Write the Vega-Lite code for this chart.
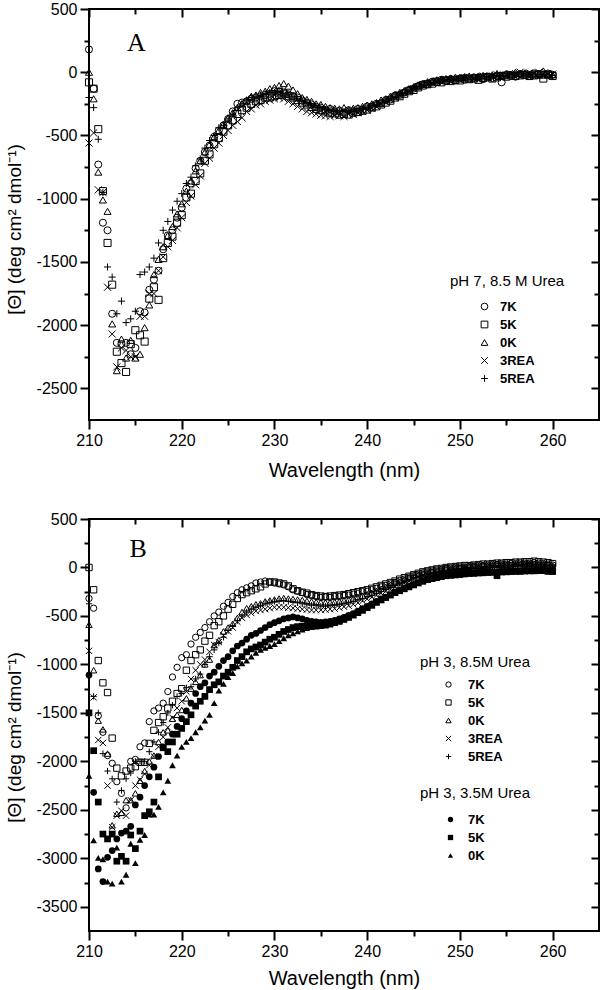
{
"$schema":"https://vega.github.io/schema/vega-lite/v6.json",
"padding":{"left":4,"top":0,"right":1,"bottom":0},
"bounds":"flush",
"spacing":99,
"config":{
"view":{"stroke":"black","strokeWidth":2},
"font":"Liberation Sans",
"axis":{"grid":false,"domain":false,"labelFlush":false,"labelOverlap":false,"labelExpr":"'' + datum.value","tickColor":"black","tickWidth":2,"labelColor":"black","titleColor":"black","labelFont":"Liberation Sans","titleFont":"Liberation Sans","labelFontSize":16,"titleFontSize":19,"titleFontWeight":"normal"},
"legend":{"titleFont":"Liberation Sans","labelFont":"Liberation Sans","titleColor":"black","labelColor":"black","titleFontWeight":"normal","labelFontWeight":"bold","titleFontSize":15,"labelFontSize":13,"padding":0,"rowPadding":4,"titlePadding":9,"orient":"none"}
},
"datasets":{
"a":[
{"s":"7K","x":210,"y":180},{"s":"7K","x":210.5,"y":-130},{"s":"7K","x":211,"y":-730},{"s":"7K","x":211.5,"y":-1190},{"s":"7K","x":212,"y":-1250},{"s":"7K","x":212.5,"y":-1910},{"s":"7K","x":213,"y":-2140},{"s":"7K","x":213.5,"y":-2150},{"s":"7K","x":214,"y":-2140},{"s":"7K","x":214.5,"y":-2230},{"s":"7K","x":215,"y":-2180},{"s":"7K","x":215.5,"y":-1890},{"s":"7K","x":216,"y":-1900},{"s":"7K","x":216.5,"y":-1720},{"s":"7K","x":217,"y":-1640},{"s":"7K","x":217.5,"y":-1570},{"s":"7K","x":218,"y":-1400},{"s":"7K","x":218.5,"y":-1290},{"s":"7K","x":219,"y":-1250},{"s":"7K","x":219.5,"y":-1150},{"s":"7K","x":220,"y":-1070},{"s":"7K","x":220.5,"y":-920},{"s":"7K","x":221,"y":-880},{"s":"7K","x":221.5,"y":-760},{"s":"7K","x":222,"y":-700},{"s":"7K","x":222.5,"y":-630},{"s":"7K","x":223,"y":-580},{"s":"7K","x":223.5,"y":-510},{"s":"7K","x":224,"y":-460},{"s":"7K","x":224.5,"y":-420},{"s":"7K","x":225,"y":-370},{"s":"7K","x":225.5,"y":-310},{"s":"7K","x":226,"y":-250},{"s":"7K","x":226.5,"y":-240},{"s":"7K","x":227,"y":-230},{"s":"7K","x":227.5,"y":-210},{"s":"7K","x":228,"y":-200},{"s":"7K","x":228.5,"y":-190},{"s":"7K","x":229,"y":-180},{"s":"7K","x":229.5,"y":-170},{"s":"7K","x":230,"y":-150},{"s":"7K","x":230.5,"y":-150},{"s":"7K","x":231,"y":-160},{"s":"7K","x":231.5,"y":-175},{"s":"7K","x":232,"y":-190},{"s":"7K","x":232.5,"y":-200},{"s":"7K","x":233,"y":-225},{"s":"7K","x":233.5,"y":-240},{"s":"7K","x":234,"y":-255},{"s":"7K","x":234.5,"y":-275},{"s":"7K","x":235,"y":-280},{"s":"7K","x":235.5,"y":-300},{"s":"7K","x":236,"y":-290},{"s":"7K","x":236.5,"y":-310},{"s":"7K","x":237,"y":-305},{"s":"7K","x":237.5,"y":-320},{"s":"7K","x":238,"y":-300},{"s":"7K","x":238.5,"y":-310},{"s":"7K","x":239,"y":-290},{"s":"7K","x":239.5,"y":-295},{"s":"7K","x":240,"y":-270},{"s":"7K","x":240.5,"y":-275},{"s":"7K","x":241,"y":-250},{"s":"7K","x":241.5,"y":-245},{"s":"7K","x":242,"y":-220},{"s":"7K","x":242.5,"y":-215},{"s":"7K","x":243,"y":-185},{"s":"7K","x":243.5,"y":-180},{"s":"7K","x":244,"y":-160},{"s":"7K","x":244.5,"y":-140},{"s":"7K","x":245,"y":-130},{"s":"7K","x":245.5,"y":-110},{"s":"7K","x":246,"y":-95},{"s":"7K","x":246.5,"y":-95},{"s":"7K","x":247,"y":-75},{"s":"7K","x":247.5,"y":-80},{"s":"7K","x":248,"y":-60},{"s":"7K","x":248.5,"y":-70},{"s":"7K","x":249,"y":-55},{"s":"7K","x":249.5,"y":-65},{"s":"7K","x":250,"y":-50},{"s":"7K","x":250.5,"y":-60},{"s":"7K","x":251,"y":-50},{"s":"7K","x":251.5,"y":-45},{"s":"7K","x":252,"y":-40},{"s":"7K","x":252.5,"y":-55},{"s":"7K","x":253,"y":-35},{"s":"7K","x":253.5,"y":-45},{"s":"7K","x":254,"y":-30},{"s":"7K","x":254.5,"y":-80},{"s":"7K","x":255,"y":-20},{"s":"7K","x":255.5,"y":-30},{"s":"7K","x":256,"y":-35},{"s":"7K","x":256.5,"y":-15},{"s":"7K","x":257,"y":-20},{"s":"7K","x":257.5,"y":-30},{"s":"7K","x":258,"y":-10},{"s":"7K","x":258.5,"y":-15},{"s":"7K","x":259,"y":-20},{"s":"7K","x":259.5,"y":-10},{"s":"7K","x":260,"y":-20},
{"s":"5K","x":210,"y":-80},{"s":"5K","x":210.5,"y":-130},{"s":"5K","x":211,"y":-450},{"s":"5K","x":211.5,"y":-940},{"s":"5K","x":212,"y":-1350},{"s":"5K","x":212.5,"y":-1680},{"s":"5K","x":213,"y":-2210},{"s":"5K","x":213.5,"y":-2300},{"s":"5K","x":214,"y":-2370},{"s":"5K","x":214.5,"y":-2150},{"s":"5K","x":215,"y":-2040},{"s":"5K","x":215.5,"y":-2080},{"s":"5K","x":216,"y":-2130},{"s":"5K","x":216.5,"y":-1790},{"s":"5K","x":217,"y":-1700},{"s":"5K","x":217.5,"y":-1800},{"s":"5K","x":218,"y":-1470},{"s":"5K","x":218.5,"y":-1350},{"s":"5K","x":219,"y":-1300},{"s":"5K","x":219.5,"y":-1190},{"s":"5K","x":220,"y":-1130},{"s":"5K","x":220.5,"y":-990},{"s":"5K","x":221,"y":-960},{"s":"5K","x":221.5,"y":-860},{"s":"5K","x":222,"y":-800},{"s":"5K","x":222.5,"y":-700},{"s":"5K","x":223,"y":-650},{"s":"5K","x":223.5,"y":-570},{"s":"5K","x":224,"y":-520},{"s":"5K","x":224.5,"y":-470},{"s":"5K","x":225,"y":-420},{"s":"5K","x":225.5,"y":-380},{"s":"5K","x":226,"y":-330},{"s":"5K","x":226.5,"y":-300},{"s":"5K","x":227,"y":-280},{"s":"5K","x":227.5,"y":-250},{"s":"5K","x":228,"y":-230},{"s":"5K","x":228.5,"y":-220},{"s":"5K","x":229,"y":-200},{"s":"5K","x":229.5,"y":-200},{"s":"5K","x":230,"y":-190},{"s":"5K","x":230.5,"y":-180},{"s":"5K","x":231,"y":-170},{"s":"5K","x":231.5,"y":-190},{"s":"5K","x":232,"y":-200},{"s":"5K","x":232.5,"y":-220},{"s":"5K","x":233,"y":-240},{"s":"5K","x":233.5,"y":-255},{"s":"5K","x":234,"y":-275},{"s":"5K","x":234.5,"y":-290},{"s":"5K","x":235,"y":-300},{"s":"5K","x":235.5,"y":-310},{"s":"5K","x":236,"y":-320},{"s":"5K","x":236.5,"y":-325},{"s":"5K","x":237,"y":-335},{"s":"5K","x":237.5,"y":-330},{"s":"5K","x":238,"y":-335},{"s":"5K","x":238.5,"y":-320},{"s":"5K","x":239,"y":-315},{"s":"5K","x":239.5,"y":-305},{"s":"5K","x":240,"y":-295},{"s":"5K","x":240.5,"y":-280},{"s":"5K","x":241,"y":-270},{"s":"5K","x":241.5,"y":-255},{"s":"5K","x":242,"y":-240},{"s":"5K","x":242.5,"y":-225},{"s":"5K","x":243,"y":-200},{"s":"5K","x":243.5,"y":-190},{"s":"5K","x":244,"y":-170},{"s":"5K","x":244.5,"y":-150},{"s":"5K","x":245,"y":-140},{"s":"5K","x":245.5,"y":-120},{"s":"5K","x":246,"y":-105},{"s":"5K","x":246.5,"y":-95},{"s":"5K","x":247,"y":-90},{"s":"5K","x":247.5,"y":-75},{"s":"5K","x":248,"y":-80},{"s":"5K","x":248.5,"y":-65},{"s":"5K","x":249,"y":-70},{"s":"5K","x":249.5,"y":-60},{"s":"5K","x":250,"y":-65},{"s":"5K","x":250.5,"y":-50},{"s":"5K","x":251,"y":-55},{"s":"5K","x":251.5,"y":-50},{"s":"5K","x":252,"y":-60},{"s":"5K","x":252.5,"y":-45},{"s":"5K","x":253,"y":-40},{"s":"5K","x":253.5,"y":-50},{"s":"5K","x":254,"y":-40},{"s":"5K","x":254.5,"y":-30},{"s":"5K","x":255,"y":-35},{"s":"5K","x":255.5,"y":-25},{"s":"5K","x":256,"y":-30},{"s":"5K","x":256.5,"y":-25},{"s":"5K","x":257,"y":-20},{"s":"5K","x":257.5,"y":-30},{"s":"5K","x":258,"y":-25},{"s":"5K","x":258.5,"y":-20},{"s":"5K","x":259,"y":-50},{"s":"5K","x":259.5,"y":-20},{"s":"5K","x":260,"y":-30},
{"s":"0K","x":210,"y":0},{"s":"0K","x":210.5,"y":-210},{"s":"0K","x":211,"y":-790},{"s":"0K","x":211.5,"y":-1010},{"s":"0K","x":212,"y":-1100},{"s":"0K","x":212.5,"y":-1990},{"s":"0K","x":213,"y":-2360},{"s":"0K","x":213.5,"y":-2110},{"s":"0K","x":214,"y":-2260},{"s":"0K","x":214.5,"y":-2120},{"s":"0K","x":215,"y":-2260},{"s":"0K","x":215.5,"y":-2230},{"s":"0K","x":216,"y":-2020},{"s":"0K","x":216.5,"y":-1840},{"s":"0K","x":217,"y":-1600},{"s":"0K","x":217.5,"y":-1480},{"s":"0K","x":218,"y":-1380},{"s":"0K","x":218.5,"y":-1290},{"s":"0K","x":219,"y":-1220},{"s":"0K","x":219.5,"y":-1120},{"s":"0K","x":220,"y":-1040},{"s":"0K","x":220.5,"y":-940},{"s":"0K","x":221,"y":-860},{"s":"0K","x":221.5,"y":-780},{"s":"0K","x":222,"y":-700},{"s":"0K","x":222.5,"y":-630},{"s":"0K","x":223,"y":-570},{"s":"0K","x":223.5,"y":-510},{"s":"0K","x":224,"y":-460},{"s":"0K","x":224.5,"y":-410},{"s":"0K","x":225,"y":-360},{"s":"0K","x":225.5,"y":-320},{"s":"0K","x":226,"y":-280},{"s":"0K","x":226.5,"y":-250},{"s":"0K","x":227,"y":-220},{"s":"0K","x":227.5,"y":-190},{"s":"0K","x":228,"y":-180},{"s":"0K","x":228.5,"y":-160},{"s":"0K","x":229,"y":-150},{"s":"0K","x":229.5,"y":-130},{"s":"0K","x":230,"y":-120},{"s":"0K","x":230.5,"y":-105},{"s":"0K","x":231,"y":-90},{"s":"0K","x":231.5,"y":-110},{"s":"0K","x":232,"y":-140},{"s":"0K","x":232.5,"y":-170},{"s":"0K","x":233,"y":-200},{"s":"0K","x":233.5,"y":-215},{"s":"0K","x":234,"y":-230},{"s":"0K","x":234.5,"y":-250},{"s":"0K","x":235,"y":-255},{"s":"0K","x":235.5,"y":-270},{"s":"0K","x":236,"y":-280},{"s":"0K","x":236.5,"y":-285},{"s":"0K","x":237,"y":-290},{"s":"0K","x":237.5,"y":-280},{"s":"0K","x":238,"y":-295},{"s":"0K","x":238.5,"y":-285},{"s":"0K","x":239,"y":-280},{"s":"0K","x":239.5,"y":-270},{"s":"0K","x":240,"y":-260},{"s":"0K","x":240.5,"y":-250},{"s":"0K","x":241,"y":-240},{"s":"0K","x":241.5,"y":-220},{"s":"0K","x":242,"y":-210},{"s":"0K","x":242.5,"y":-190},{"s":"0K","x":243,"y":-175},{"s":"0K","x":243.5,"y":-160},{"s":"0K","x":244,"y":-145},{"s":"0K","x":244.5,"y":-130},{"s":"0K","x":245,"y":-115},{"s":"0K","x":245.5,"y":-100},{"s":"0K","x":246,"y":-90},{"s":"0K","x":246.5,"y":-75},{"s":"0K","x":247,"y":-70},{"s":"0K","x":247.5,"y":-60},{"s":"0K","x":248,"y":-55},{"s":"0K","x":248.5,"y":-50},{"s":"0K","x":249,"y":-45},{"s":"0K","x":249.5,"y":-40},{"s":"0K","x":250,"y":-40},{"s":"0K","x":250.5,"y":-35},{"s":"0K","x":251,"y":-30},{"s":"0K","x":251.5,"y":-35},{"s":"0K","x":252,"y":-30},{"s":"0K","x":252.5,"y":-25},{"s":"0K","x":253,"y":-30},{"s":"0K","x":253.5,"y":-20},{"s":"0K","x":254,"y":-10},{"s":"0K","x":254.5,"y":-25},{"s":"0K","x":255,"y":-10},{"s":"0K","x":255.5,"y":-15},{"s":"0K","x":256,"y":0},{"s":"0K","x":256.5,"y":-10},{"s":"0K","x":257,"y":-5},{"s":"0K","x":257.5,"y":-15},{"s":"0K","x":258,"y":-20},{"s":"0K","x":258.5,"y":-10},{"s":"0K","x":259,"y":10},{"s":"0K","x":259.5,"y":-15},{"s":"0K","x":260,"y":-20},
{"s":"3REA","x":210,"y":-560},{"s":"3REA","x":210.5,"y":-480},{"s":"3REA","x":211,"y":-930},{"s":"3REA","x":211.5,"y":-950},{"s":"3REA","x":212,"y":-1700},{"s":"3REA","x":212.5,"y":-2070},{"s":"3REA","x":213,"y":-2330},{"s":"3REA","x":213.5,"y":-2180},{"s":"3REA","x":214,"y":-2200},{"s":"3REA","x":214.5,"y":-2250},{"s":"3REA","x":215,"y":-2250},{"s":"3REA","x":215.5,"y":-1930},{"s":"3REA","x":216,"y":-1930},{"s":"3REA","x":216.5,"y":-1750},{"s":"3REA","x":217,"y":-1750},{"s":"3REA","x":217.5,"y":-1570},{"s":"3REA","x":218,"y":-1460},{"s":"3REA","x":218.5,"y":-1380},{"s":"3REA","x":219,"y":-1330},{"s":"3REA","x":219.5,"y":-1230},{"s":"3REA","x":220,"y":-1150},{"s":"3REA","x":220.5,"y":-1030},{"s":"3REA","x":221,"y":-980},{"s":"3REA","x":221.5,"y":-890},{"s":"3REA","x":222,"y":-820},{"s":"3REA","x":222.5,"y":-720},{"s":"3REA","x":223,"y":-680},{"s":"3REA","x":223.5,"y":-600},{"s":"3REA","x":224,"y":-560},{"s":"3REA","x":224.5,"y":-500},{"s":"3REA","x":225,"y":-460},{"s":"3REA","x":225.5,"y":-420},{"s":"3REA","x":226,"y":-390},{"s":"3REA","x":226.5,"y":-360},{"s":"3REA","x":227,"y":-310},{"s":"3REA","x":227.5,"y":-290},{"s":"3REA","x":228,"y":-260},{"s":"3REA","x":228.5,"y":-250},{"s":"3REA","x":229,"y":-230},{"s":"3REA","x":229.5,"y":-220},{"s":"3REA","x":230,"y":-210},{"s":"3REA","x":230.5,"y":-200},{"s":"3REA","x":231,"y":-210},{"s":"3REA","x":231.5,"y":-230},{"s":"3REA","x":232,"y":-250},{"s":"3REA","x":232.5,"y":-270},{"s":"3REA","x":233,"y":-290},{"s":"3REA","x":233.5,"y":-310},{"s":"3REA","x":234,"y":-320},{"s":"3REA","x":234.5,"y":-330},{"s":"3REA","x":235,"y":-340},{"s":"3REA","x":235.5,"y":-345},{"s":"3REA","x":236,"y":-350},{"s":"3REA","x":236.5,"y":-340},{"s":"3REA","x":237,"y":-345},{"s":"3REA","x":237.5,"y":-350},{"s":"3REA","x":238,"y":-330},{"s":"3REA","x":238.5,"y":-335},{"s":"3REA","x":239,"y":-320},{"s":"3REA","x":239.5,"y":-310},{"s":"3REA","x":240,"y":-300},{"s":"3REA","x":240.5,"y":-285},{"s":"3REA","x":241,"y":-270},{"s":"3REA","x":241.5,"y":-250},{"s":"3REA","x":242,"y":-235},{"s":"3REA","x":242.5,"y":-215},{"s":"3REA","x":243,"y":-200},{"s":"3REA","x":243.5,"y":-180},{"s":"3REA","x":244,"y":-165},{"s":"3REA","x":244.5,"y":-150},{"s":"3REA","x":245,"y":-130},{"s":"3REA","x":245.5,"y":-115},{"s":"3REA","x":246,"y":-100},{"s":"3REA","x":246.5,"y":-90},{"s":"3REA","x":247,"y":-85},{"s":"3REA","x":247.5,"y":-70},{"s":"3REA","x":248,"y":-65},{"s":"3REA","x":248.5,"y":-60},{"s":"3REA","x":249,"y":-60},{"s":"3REA","x":249.5,"y":-55},{"s":"3REA","x":250,"y":-50},{"s":"3REA","x":250.5,"y":-45},{"s":"3REA","x":251,"y":-40},{"s":"3REA","x":251.5,"y":-50},{"s":"3REA","x":252,"y":-40},{"s":"3REA","x":252.5,"y":-30},{"s":"3REA","x":253,"y":-35},{"s":"3REA","x":253.5,"y":-30},{"s":"3REA","x":254,"y":-20},{"s":"3REA","x":254.5,"y":-25},{"s":"3REA","x":255,"y":-20},{"s":"3REA","x":255.5,"y":-15},{"s":"3REA","x":256,"y":-10},{"s":"3REA","x":256.5,"y":0},{"s":"3REA","x":257,"y":-10},{"s":"3REA","x":257.5,"y":-5},{"s":"3REA","x":258,"y":-10},{"s":"3REA","x":258.5,"y":0},{"s":"3REA","x":259,"y":-20},{"s":"3REA","x":259.5,"y":-10},{"s":"3REA","x":260,"y":-15},
{"s":"5REA","x":210,"y":-200},{"s":"5REA","x":210.5,"y":-280},{"s":"5REA","x":211,"y":-530},{"s":"5REA","x":211.5,"y":-950},{"s":"5REA","x":212,"y":-1540},{"s":"5REA","x":212.5,"y":-1620},{"s":"5REA","x":213,"y":-1910},{"s":"5REA","x":213.5,"y":-1810},{"s":"5REA","x":214,"y":-1980},{"s":"5REA","x":214.5,"y":-1950},{"s":"5REA","x":215,"y":-1890},{"s":"5REA","x":215.5,"y":-1600},{"s":"5REA","x":216,"y":-1580},{"s":"5REA","x":216.5,"y":-1540},{"s":"5REA","x":217,"y":-1470},{"s":"5REA","x":217.5,"y":-1350},{"s":"5REA","x":218,"y":-1250},{"s":"5REA","x":218.5,"y":-1180},{"s":"5REA","x":219,"y":-1090},{"s":"5REA","x":219.5,"y":-1020},{"s":"5REA","x":220,"y":-960},{"s":"5REA","x":220.5,"y":-880},{"s":"5REA","x":221,"y":-830},{"s":"5REA","x":221.5,"y":-740},{"s":"5REA","x":222,"y":-686},{"s":"5REA","x":222.5,"y":-600},{"s":"5REA","x":223,"y":-540},{"s":"5REA","x":223.5,"y":-500},{"s":"5REA","x":224,"y":-440},{"s":"5REA","x":224.5,"y":-420},{"s":"5REA","x":225,"y":-370},{"s":"5REA","x":225.5,"y":-330},{"s":"5REA","x":226,"y":-280},{"s":"5REA","x":226.5,"y":-250},{"s":"5REA","x":227,"y":-220},{"s":"5REA","x":227.5,"y":-200},{"s":"5REA","x":228,"y":-190},{"s":"5REA","x":228.5,"y":-180},{"s":"5REA","x":229,"y":-170},{"s":"5REA","x":229.5,"y":-160},{"s":"5REA","x":230,"y":-160},{"s":"5REA","x":230.5,"y":-160},{"s":"5REA","x":231,"y":-170},{"s":"5REA","x":231.5,"y":-180},{"s":"5REA","x":232,"y":-195},{"s":"5REA","x":232.5,"y":-210},{"s":"5REA","x":233,"y":-230},{"s":"5REA","x":233.5,"y":-245},{"s":"5REA","x":234,"y":-265},{"s":"5REA","x":234.5,"y":-280},{"s":"5REA","x":235,"y":-285},{"s":"5REA","x":235.5,"y":-295},{"s":"5REA","x":236,"y":-300},{"s":"5REA","x":236.5,"y":-305},{"s":"5REA","x":237,"y":-310},{"s":"5REA","x":237.5,"y":-310},{"s":"5REA","x":238,"y":-310},{"s":"5REA","x":238.5,"y":-305},{"s":"5REA","x":239,"y":-300},{"s":"5REA","x":239.5,"y":-290},{"s":"5REA","x":240,"y":-280},{"s":"5REA","x":240.5,"y":-265},{"s":"5REA","x":241,"y":-255},{"s":"5REA","x":241.5,"y":-240},{"s":"5REA","x":242,"y":-220},{"s":"5REA","x":242.5,"y":-205},{"s":"5REA","x":243,"y":-190},{"s":"5REA","x":243.5,"y":-175},{"s":"5REA","x":244,"y":-160},{"s":"5REA","x":244.5,"y":-140},{"s":"5REA","x":245,"y":-125},{"s":"5REA","x":245.5,"y":-110},{"s":"5REA","x":246,"y":-100},{"s":"5REA","x":246.5,"y":-85},{"s":"5REA","x":247,"y":-80},{"s":"5REA","x":247.5,"y":-70},{"s":"5REA","x":248,"y":-65},{"s":"5REA","x":248.5,"y":-60},{"s":"5REA","x":249,"y":-55},{"s":"5REA","x":249.5,"y":-55},{"s":"5REA","x":250,"y":-50},{"s":"5REA","x":250.5,"y":-45},{"s":"5REA","x":251,"y":-45},{"s":"5REA","x":251.5,"y":-40},{"s":"5REA","x":252,"y":-40},{"s":"5REA","x":252.5,"y":-35},{"s":"5REA","x":253,"y":-35},{"s":"5REA","x":253.5,"y":-30},{"s":"5REA","x":254,"y":-30},{"s":"5REA","x":254.5,"y":-25},{"s":"5REA","x":255,"y":-25},{"s":"5REA","x":255.5,"y":-20},{"s":"5REA","x":256,"y":-20},{"s":"5REA","x":256.5,"y":-15},{"s":"5REA","x":257,"y":-15},{"s":"5REA","x":257.5,"y":-20},{"s":"5REA","x":258,"y":-15},{"s":"5REA","x":258.5,"y":-20},{"s":"5REA","x":259,"y":-15},{"s":"5REA","x":259.5,"y":-20},{"s":"5REA","x":260,"y":-25}
],
"b1":[
{"s":"7K","x":210,"y":-320},{"s":"7K","x":210.5,"y":-420},{"s":"7K","x":211,"y":-1530},{"s":"7K","x":211.5,"y":-1700},{"s":"7K","x":212,"y":-1940},{"s":"7K","x":212.5,"y":-2020},{"s":"7K","x":213,"y":-2210},{"s":"7K","x":213.5,"y":-2330},{"s":"7K","x":214,"y":-2480},{"s":"7K","x":214.5,"y":-2000},{"s":"7K","x":215,"y":-1980},{"s":"7K","x":215.5,"y":-1850},{"s":"7K","x":216,"y":-1810},{"s":"7K","x":216.5,"y":-1590},{"s":"7K","x":217,"y":-1480},{"s":"7K","x":217.5,"y":-1450},{"s":"7K","x":218,"y":-1400},{"s":"7K","x":218.5,"y":-1280},{"s":"7K","x":219,"y":-1130},{"s":"7K","x":219.5,"y":-1030},{"s":"7K","x":220,"y":-930},{"s":"7K","x":220.5,"y":-900},{"s":"7K","x":221,"y":-790},{"s":"7K","x":221.5,"y":-720},{"s":"7K","x":222,"y":-670},{"s":"7K","x":222.5,"y":-620},{"s":"7K","x":223,"y":-560},{"s":"7K","x":223.5,"y":-500},{"s":"7K","x":224,"y":-460},{"s":"7K","x":224.5,"y":-400},{"s":"7K","x":225,"y":-360},{"s":"7K","x":225.5,"y":-300},{"s":"7K","x":226,"y":-260},{"s":"7K","x":226.5,"y":-230},{"s":"7K","x":227,"y":-210},{"s":"7K","x":227.5,"y":-190},{"s":"7K","x":228,"y":-160},{"s":"7K","x":228.5,"y":-150},{"s":"7K","x":229,"y":-140},{"s":"7K","x":229.5,"y":-150},{"s":"7K","x":230,"y":-160},{"s":"7K","x":230.5,"y":-170},{"s":"7K","x":231,"y":-180},{"s":"7K","x":231.5,"y":-200},{"s":"7K","x":232,"y":-230},{"s":"7K","x":232.5,"y":-245},{"s":"7K","x":233,"y":-260},{"s":"7K","x":233.5,"y":-280},{"s":"7K","x":234,"y":-290},{"s":"7K","x":234.5,"y":-300},{"s":"7K","x":235,"y":-310},{"s":"7K","x":235.5,"y":-305},{"s":"7K","x":236,"y":-310},{"s":"7K","x":236.5,"y":-300},{"s":"7K","x":237,"y":-300},{"s":"7K","x":237.5,"y":-290},{"s":"7K","x":238,"y":-285},{"s":"7K","x":238.5,"y":-275},{"s":"7K","x":239,"y":-265},{"s":"7K","x":239.5,"y":-250},{"s":"7K","x":240,"y":-245},{"s":"7K","x":240.5,"y":-230},{"s":"7K","x":241,"y":-215},{"s":"7K","x":241.5,"y":-200},{"s":"7K","x":242,"y":-185},{"s":"7K","x":242.5,"y":-170},{"s":"7K","x":243,"y":-155},{"s":"7K","x":243.5,"y":-135},{"s":"7K","x":244,"y":-120},{"s":"7K","x":244.5,"y":-100},{"s":"7K","x":245,"y":-85},{"s":"7K","x":245.5,"y":-70},{"s":"7K","x":246,"y":-55},{"s":"7K","x":246.5,"y":-45},{"s":"7K","x":247,"y":-35},{"s":"7K","x":247.5,"y":-25},{"s":"7K","x":248,"y":-20},{"s":"7K","x":248.5,"y":-10},{"s":"7K","x":249,"y":-5},{"s":"7K","x":249.5,"y":0},{"s":"7K","x":250,"y":5},{"s":"7K","x":250.5,"y":5},{"s":"7K","x":251,"y":10},{"s":"7K","x":251.5,"y":15},{"s":"7K","x":252,"y":20},{"s":"7K","x":252.5,"y":20},{"s":"7K","x":253,"y":25},{"s":"7K","x":253.5,"y":30},{"s":"7K","x":254,"y":30},{"s":"7K","x":254.5,"y":35},{"s":"7K","x":255,"y":35},{"s":"7K","x":255.5,"y":40},{"s":"7K","x":256,"y":40},{"s":"7K","x":256.5,"y":45},{"s":"7K","x":257,"y":45},{"s":"7K","x":257.5,"y":45},{"s":"7K","x":258,"y":50},{"s":"7K","x":258.5,"y":45},{"s":"7K","x":259,"y":40},{"s":"7K","x":259.5,"y":35},{"s":"7K","x":260,"y":25},
{"s":"5K","x":210,"y":0},{"s":"5K","x":210.5,"y":-230},{"s":"5K","x":211,"y":-960},{"s":"5K","x":211.5,"y":-1190},{"s":"5K","x":212,"y":-1290},{"s":"5K","x":212.5,"y":-1760},{"s":"5K","x":213,"y":-2070},{"s":"5K","x":213.5,"y":-2150},{"s":"5K","x":214,"y":-2100},{"s":"5K","x":214.5,"y":-2070},{"s":"5K","x":215,"y":-2055},{"s":"5K","x":215.5,"y":-2010},{"s":"5K","x":216,"y":-2010},{"s":"5K","x":216.5,"y":-1815},{"s":"5K","x":217,"y":-1680},{"s":"5K","x":217.5,"y":-1600},{"s":"5K","x":218,"y":-1540},{"s":"5K","x":218.5,"y":-1450},{"s":"5K","x":219,"y":-1380},{"s":"5K","x":219.5,"y":-1300},{"s":"5K","x":220,"y":-1250},{"s":"5K","x":220.5,"y":-1060},{"s":"5K","x":221,"y":-960},{"s":"5K","x":221.5,"y":-900},{"s":"5K","x":222,"y":-850},{"s":"5K","x":222.5,"y":-760},{"s":"5K","x":223,"y":-700},{"s":"5K","x":223.5,"y":-600},{"s":"5K","x":224,"y":-560},{"s":"5K","x":224.5,"y":-500},{"s":"5K","x":225,"y":-430},{"s":"5K","x":225.5,"y":-380},{"s":"5K","x":226,"y":-320},{"s":"5K","x":226.5,"y":-280},{"s":"5K","x":227,"y":-260},{"s":"5K","x":227.5,"y":-240},{"s":"5K","x":228,"y":-220},{"s":"5K","x":228.5,"y":-200},{"s":"5K","x":229,"y":-170},{"s":"5K","x":229.5,"y":-150},{"s":"5K","x":230,"y":-150},{"s":"5K","x":230.5,"y":-160},{"s":"5K","x":231,"y":-170},{"s":"5K","x":231.5,"y":-190},{"s":"5K","x":232,"y":-220},{"s":"5K","x":232.5,"y":-240},{"s":"5K","x":233,"y":-255},{"s":"5K","x":233.5,"y":-265},{"s":"5K","x":234,"y":-280},{"s":"5K","x":234.5,"y":-290},{"s":"5K","x":235,"y":-295},{"s":"5K","x":235.5,"y":-300},{"s":"5K","x":236,"y":-295},{"s":"5K","x":236.5,"y":-290},{"s":"5K","x":237,"y":-285},{"s":"5K","x":237.5,"y":-280},{"s":"5K","x":238,"y":-270},{"s":"5K","x":238.5,"y":-260},{"s":"5K","x":239,"y":-250},{"s":"5K","x":239.5,"y":-240},{"s":"5K","x":240,"y":-230},{"s":"5K","x":240.5,"y":-215},{"s":"5K","x":241,"y":-200},{"s":"5K","x":241.5,"y":-185},{"s":"5K","x":242,"y":-170},{"s":"5K","x":242.5,"y":-155},{"s":"5K","x":243,"y":-140},{"s":"5K","x":243.5,"y":-120},{"s":"5K","x":244,"y":-105},{"s":"5K","x":244.5,"y":-90},{"s":"5K","x":245,"y":-75},{"s":"5K","x":245.5,"y":-60},{"s":"5K","x":246,"y":-45},{"s":"5K","x":246.5,"y":-35},{"s":"5K","x":247,"y":-25},{"s":"5K","x":247.5,"y":-15},{"s":"5K","x":248,"y":-10},{"s":"5K","x":248.5,"y":0},{"s":"5K","x":249,"y":5},{"s":"5K","x":249.5,"y":10},{"s":"5K","x":250,"y":15},{"s":"5K","x":250.5,"y":20},{"s":"5K","x":251,"y":20},{"s":"5K","x":251.5,"y":25},{"s":"5K","x":252,"y":30},{"s":"5K","x":252.5,"y":35},{"s":"5K","x":253,"y":35},{"s":"5K","x":253.5,"y":40},{"s":"5K","x":254,"y":45},{"s":"5K","x":254.5,"y":45},{"s":"5K","x":255,"y":50},{"s":"5K","x":255.5,"y":50},{"s":"5K","x":256,"y":55},{"s":"5K","x":256.5,"y":55},{"s":"5K","x":257,"y":60},{"s":"5K","x":257.5,"y":60},{"s":"5K","x":258,"y":65},{"s":"5K","x":258.5,"y":60},{"s":"5K","x":259,"y":55},{"s":"5K","x":259.5,"y":50},{"s":"5K","x":260,"y":40},
{"s":"0K","x":210,"y":-590},{"s":"0K","x":210.5,"y":-1060},{"s":"0K","x":211,"y":-1580},{"s":"0K","x":211.5,"y":-1670},{"s":"0K","x":212,"y":-1920},{"s":"0K","x":212.5,"y":-2660},{"s":"0K","x":213,"y":-2540},{"s":"0K","x":213.5,"y":-2530},{"s":"0K","x":214,"y":-2400},{"s":"0K","x":214.5,"y":-2400},{"s":"0K","x":215,"y":-2330},{"s":"0K","x":215.5,"y":-2200},{"s":"0K","x":216,"y":-2100},{"s":"0K","x":216.5,"y":-2000},{"s":"0K","x":217,"y":-1940},{"s":"0K","x":217.5,"y":-1800},{"s":"0K","x":218,"y":-1700},{"s":"0K","x":218.5,"y":-1680},{"s":"0K","x":219,"y":-1560},{"s":"0K","x":219.5,"y":-1520},{"s":"0K","x":220,"y":-1470},{"s":"0K","x":220.5,"y":-1350},{"s":"0K","x":221,"y":-1250},{"s":"0K","x":221.5,"y":-1180},{"s":"0K","x":222,"y":-1110},{"s":"0K","x":222.5,"y":-1000},{"s":"0K","x":223,"y":-950},{"s":"0K","x":223.5,"y":-800},{"s":"0K","x":224,"y":-750},{"s":"0K","x":224.5,"y":-660},{"s":"0K","x":225,"y":-620},{"s":"0K","x":225.5,"y":-580},{"s":"0K","x":226,"y":-520},{"s":"0K","x":226.5,"y":-460},{"s":"0K","x":227,"y":-420},{"s":"0K","x":227.5,"y":-400},{"s":"0K","x":228,"y":-380},{"s":"0K","x":228.5,"y":-370},{"s":"0K","x":229,"y":-350},{"s":"0K","x":229.5,"y":-340},{"s":"0K","x":230,"y":-330},{"s":"0K","x":230.5,"y":-320},{"s":"0K","x":231,"y":-315},{"s":"0K","x":231.5,"y":-320},{"s":"0K","x":232,"y":-325},{"s":"0K","x":232.5,"y":-330},{"s":"0K","x":233,"y":-335},{"s":"0K","x":233.5,"y":-345},{"s":"0K","x":234,"y":-350},{"s":"0K","x":234.5,"y":-355},{"s":"0K","x":235,"y":-360},{"s":"0K","x":235.5,"y":-360},{"s":"0K","x":236,"y":-360},{"s":"0K","x":236.5,"y":-355},{"s":"0K","x":237,"y":-350},{"s":"0K","x":237.5,"y":-340},{"s":"0K","x":238,"y":-330},{"s":"0K","x":238.5,"y":-320},{"s":"0K","x":239,"y":-305},{"s":"0K","x":239.5,"y":-290},{"s":"0K","x":240,"y":-275},{"s":"0K","x":240.5,"y":-260},{"s":"0K","x":241,"y":-240},{"s":"0K","x":241.5,"y":-220},{"s":"0K","x":242,"y":-200},{"s":"0K","x":242.5,"y":-180},{"s":"0K","x":243,"y":-160},{"s":"0K","x":243.5,"y":-145},{"s":"0K","x":244,"y":-125},{"s":"0K","x":244.5,"y":-105},{"s":"0K","x":245,"y":-90},{"s":"0K","x":245.5,"y":-75},{"s":"0K","x":246,"y":-60},{"s":"0K","x":246.5,"y":-50},{"s":"0K","x":247,"y":-40},{"s":"0K","x":247.5,"y":-30},{"s":"0K","x":248,"y":-20},{"s":"0K","x":248.5,"y":-15},{"s":"0K","x":249,"y":-10},{"s":"0K","x":249.5,"y":-5},{"s":"0K","x":250,"y":0},{"s":"0K","x":250.5,"y":5},{"s":"0K","x":251,"y":10},{"s":"0K","x":251.5,"y":15},{"s":"0K","x":252,"y":15},{"s":"0K","x":252.5,"y":20},{"s":"0K","x":253,"y":20},{"s":"0K","x":253.5,"y":25},{"s":"0K","x":254,"y":25},{"s":"0K","x":254.5,"y":30},{"s":"0K","x":255,"y":30},{"s":"0K","x":255.5,"y":30},{"s":"0K","x":256,"y":35},{"s":"0K","x":256.5,"y":35},{"s":"0K","x":257,"y":40},{"s":"0K","x":257.5,"y":40},{"s":"0K","x":258,"y":40},{"s":"0K","x":258.5,"y":35},{"s":"0K","x":259,"y":35},{"s":"0K","x":259.5,"y":30},{"s":"0K","x":260,"y":20},
{"s":"3REA","x":210,"y":-860},{"s":"3REA","x":210.5,"y":-1340},{"s":"3REA","x":211,"y":-1780},{"s":"3REA","x":211.5,"y":-1810},{"s":"3REA","x":212,"y":-2250},{"s":"3REA","x":212.5,"y":-2680},{"s":"3REA","x":213,"y":-2560},{"s":"3REA","x":213.5,"y":-2510},{"s":"3REA","x":214,"y":-2560},{"s":"3REA","x":214.5,"y":-2400},{"s":"3REA","x":215,"y":-2250},{"s":"3REA","x":215.5,"y":-2190},{"s":"3REA","x":216,"y":-2130},{"s":"3REA","x":216.5,"y":-2040},{"s":"3REA","x":217,"y":-1950},{"s":"3REA","x":217.5,"y":-1850},{"s":"3REA","x":218,"y":-1750},{"s":"3REA","x":218.5,"y":-1650},{"s":"3REA","x":219,"y":-1550},{"s":"3REA","x":219.5,"y":-1450},{"s":"3REA","x":220,"y":-1380},{"s":"3REA","x":220.5,"y":-1280},{"s":"3REA","x":221,"y":-1150},{"s":"3REA","x":221.5,"y":-1060},{"s":"3REA","x":222,"y":-1000},{"s":"3REA","x":222.5,"y":-950},{"s":"3REA","x":223,"y":-870},{"s":"3REA","x":223.5,"y":-800},{"s":"3REA","x":224,"y":-770},{"s":"3REA","x":224.5,"y":-700},{"s":"3REA","x":225,"y":-660},{"s":"3REA","x":225.5,"y":-620},{"s":"3REA","x":226,"y":-560},{"s":"3REA","x":226.5,"y":-520},{"s":"3REA","x":227,"y":-490},{"s":"3REA","x":227.5,"y":-470},{"s":"3REA","x":228,"y":-450},{"s":"3REA","x":228.5,"y":-440},{"s":"3REA","x":229,"y":-430},{"s":"3REA","x":229.5,"y":-420},{"s":"3REA","x":230,"y":-410},{"s":"3REA","x":230.5,"y":-410},{"s":"3REA","x":231,"y":-410},{"s":"3REA","x":231.5,"y":-415},{"s":"3REA","x":232,"y":-420},{"s":"3REA","x":232.5,"y":-425},{"s":"3REA","x":233,"y":-430},{"s":"3REA","x":233.5,"y":-435},{"s":"3REA","x":234,"y":-440},{"s":"3REA","x":234.5,"y":-440},{"s":"3REA","x":235,"y":-440},{"s":"3REA","x":235.5,"y":-435},{"s":"3REA","x":236,"y":-430},{"s":"3REA","x":236.5,"y":-425},{"s":"3REA","x":237,"y":-415},{"s":"3REA","x":237.5,"y":-405},{"s":"3REA","x":238,"y":-395},{"s":"3REA","x":238.5,"y":-380},{"s":"3REA","x":239,"y":-365},{"s":"3REA","x":239.5,"y":-345},{"s":"3REA","x":240,"y":-325},{"s":"3REA","x":240.5,"y":-305},{"s":"3REA","x":241,"y":-285},{"s":"3REA","x":241.5,"y":-265},{"s":"3REA","x":242,"y":-245},{"s":"3REA","x":242.5,"y":-225},{"s":"3REA","x":243,"y":-200},{"s":"3REA","x":243.5,"y":-180},{"s":"3REA","x":244,"y":-160},{"s":"3REA","x":244.5,"y":-140},{"s":"3REA","x":245,"y":-120},{"s":"3REA","x":245.5,"y":-100},{"s":"3REA","x":246,"y":-85},{"s":"3REA","x":246.5,"y":-70},{"s":"3REA","x":247,"y":-60},{"s":"3REA","x":247.5,"y":-50},{"s":"3REA","x":248,"y":-40},{"s":"3REA","x":248.5,"y":-35},{"s":"3REA","x":249,"y":-25},{"s":"3REA","x":249.5,"y":-20},{"s":"3REA","x":250,"y":-15},{"s":"3REA","x":250.5,"y":-10},{"s":"3REA","x":251,"y":-5},{"s":"3REA","x":251.5,"y":0},{"s":"3REA","x":252,"y":5},{"s":"3REA","x":252.5,"y":5},{"s":"3REA","x":253,"y":10},{"s":"3REA","x":253.5,"y":10},{"s":"3REA","x":254,"y":15},{"s":"3REA","x":254.5,"y":15},{"s":"3REA","x":255,"y":20},{"s":"3REA","x":255.5,"y":20},{"s":"3REA","x":256,"y":25},{"s":"3REA","x":256.5,"y":25},{"s":"3REA","x":257,"y":30},{"s":"3REA","x":257.5,"y":30},{"s":"3REA","x":258,"y":30},{"s":"3REA","x":258.5,"y":25},{"s":"3REA","x":259,"y":25},{"s":"3REA","x":259.5,"y":20},{"s":"3REA","x":260,"y":10},
{"s":"5REA","x":210,"y":-375},{"s":"5REA","x":210.5,"y":-1330},{"s":"5REA","x":211,"y":-1500},{"s":"5REA","x":211.5,"y":-1920},{"s":"5REA","x":212,"y":-2100},{"s":"5REA","x":212.5,"y":-2180},{"s":"5REA","x":213,"y":-2420},{"s":"5REA","x":213.5,"y":-2300},{"s":"5REA","x":214,"y":-2180},{"s":"5REA","x":214.5,"y":-2120},{"s":"5REA","x":215,"y":-2000},{"s":"5REA","x":215.5,"y":-2000},{"s":"5REA","x":216,"y":-2000},{"s":"5REA","x":216.5,"y":-1900},{"s":"5REA","x":217,"y":-1800},{"s":"5REA","x":217.5,"y":-1700},{"s":"5REA","x":218,"y":-1600},{"s":"5REA","x":218.5,"y":-1500},{"s":"5REA","x":219,"y":-1420},{"s":"5REA","x":219.5,"y":-1330},{"s":"5REA","x":220,"y":-1300},{"s":"5REA","x":220.5,"y":-1240},{"s":"5REA","x":221,"y":-1230},{"s":"5REA","x":221.5,"y":-1150},{"s":"5REA","x":222,"y":-1100},{"s":"5REA","x":222.5,"y":-1000},{"s":"5REA","x":223,"y":-920},{"s":"5REA","x":223.5,"y":-850},{"s":"5REA","x":224,"y":-780},{"s":"5REA","x":224.5,"y":-720},{"s":"5REA","x":225,"y":-650},{"s":"5REA","x":225.5,"y":-600},{"s":"5REA","x":226,"y":-550},{"s":"5REA","x":226.5,"y":-500},{"s":"5REA","x":227,"y":-460},{"s":"5REA","x":227.5,"y":-430},{"s":"5REA","x":228,"y":-410},{"s":"5REA","x":228.5,"y":-390},{"s":"5REA","x":229,"y":-370},{"s":"5REA","x":229.5,"y":-360},{"s":"5REA","x":230,"y":-350},{"s":"5REA","x":230.5,"y":-345},{"s":"5REA","x":231,"y":-345},{"s":"5REA","x":231.5,"y":-350},{"s":"5REA","x":232,"y":-360},{"s":"5REA","x":232.5,"y":-365},{"s":"5REA","x":233,"y":-375},{"s":"5REA","x":233.5,"y":-385},{"s":"5REA","x":234,"y":-390},{"s":"5REA","x":234.5,"y":-395},{"s":"5REA","x":235,"y":-400},{"s":"5REA","x":235.5,"y":-400},{"s":"5REA","x":236,"y":-395},{"s":"5REA","x":236.5,"y":-390},{"s":"5REA","x":237,"y":-385},{"s":"5REA","x":237.5,"y":-375},{"s":"5REA","x":238,"y":-365},{"s":"5REA","x":238.5,"y":-350},{"s":"5REA","x":239,"y":-335},{"s":"5REA","x":239.5,"y":-320},{"s":"5REA","x":240,"y":-300},{"s":"5REA","x":240.5,"y":-285},{"s":"5REA","x":241,"y":-265},{"s":"5REA","x":241.5,"y":-245},{"s":"5REA","x":242,"y":-225},{"s":"5REA","x":242.5,"y":-205},{"s":"5REA","x":243,"y":-185},{"s":"5REA","x":243.5,"y":-165},{"s":"5REA","x":244,"y":-145},{"s":"5REA","x":244.5,"y":-125},{"s":"5REA","x":245,"y":-105},{"s":"5REA","x":245.5,"y":-90},{"s":"5REA","x":246,"y":-75},{"s":"5REA","x":246.5,"y":-65},{"s":"5REA","x":247,"y":-55},{"s":"5REA","x":247.5,"y":-45},{"s":"5REA","x":248,"y":-35},{"s":"5REA","x":248.5,"y":-30},{"s":"5REA","x":249,"y":-20},{"s":"5REA","x":249.5,"y":-15},{"s":"5REA","x":250,"y":-10},{"s":"5REA","x":250.5,"y":-5},{"s":"5REA","x":251,"y":0},{"s":"5REA","x":251.5,"y":5},{"s":"5REA","x":252,"y":10},{"s":"5REA","x":252.5,"y":10},{"s":"5REA","x":253,"y":15},{"s":"5REA","x":253.5,"y":15},{"s":"5REA","x":254,"y":20},{"s":"5REA","x":254.5,"y":20},{"s":"5REA","x":255,"y":25},{"s":"5REA","x":255.5,"y":25},{"s":"5REA","x":256,"y":30},{"s":"5REA","x":256.5,"y":30},{"s":"5REA","x":257,"y":35},{"s":"5REA","x":257.5,"y":35},{"s":"5REA","x":258,"y":35},{"s":"5REA","x":258.5,"y":30},{"s":"5REA","x":259,"y":30},{"s":"5REA","x":259.5,"y":25},{"s":"5REA","x":260,"y":15}
],
"b2":[
{"s":"7K","x":210,"y":-1110},{"s":"7K","x":210.5,"y":-2320},{"s":"7K","x":211,"y":-3110},{"s":"7K","x":211.5,"y":-3240},{"s":"7K","x":212,"y":-2990},{"s":"7K","x":212.5,"y":-2920},{"s":"7K","x":213,"y":-2800},{"s":"7K","x":213.5,"y":-2740},{"s":"7K","x":214,"y":-2720},{"s":"7K","x":214.5,"y":-2670},{"s":"7K","x":215,"y":-2450},{"s":"7K","x":215.5,"y":-2370},{"s":"7K","x":216,"y":-2250},{"s":"7K","x":216.5,"y":-2160},{"s":"7K","x":217,"y":-2060},{"s":"7K","x":217.5,"y":-1950},{"s":"7K","x":218,"y":-1850},{"s":"7K","x":218.5,"y":-1800},{"s":"7K","x":219,"y":-1720},{"s":"7K","x":219.5,"y":-1640},{"s":"7K","x":220,"y":-1560},{"s":"7K","x":220.5,"y":-1480},{"s":"7K","x":221,"y":-1400},{"s":"7K","x":221.5,"y":-1300},{"s":"7K","x":222,"y":-1230},{"s":"7K","x":222.5,"y":-1190},{"s":"7K","x":223,"y":-1120},{"s":"7K","x":223.5,"y":-1080},{"s":"7K","x":224,"y":-1020},{"s":"7K","x":224.5,"y":-960},{"s":"7K","x":225,"y":-920},{"s":"7K","x":225.5,"y":-860},{"s":"7K","x":226,"y":-810},{"s":"7K","x":226.5,"y":-780},{"s":"7K","x":227,"y":-740},{"s":"7K","x":227.5,"y":-700},{"s":"7K","x":228,"y":-680},{"s":"7K","x":228.5,"y":-650},{"s":"7K","x":229,"y":-620},{"s":"7K","x":229.5,"y":-590},{"s":"7K","x":230,"y":-570},{"s":"7K","x":230.5,"y":-550},{"s":"7K","x":231,"y":-530},{"s":"7K","x":231.5,"y":-520},{"s":"7K","x":232,"y":-510},{"s":"7K","x":232.5,"y":-520},{"s":"7K","x":233,"y":-530},{"s":"7K","x":233.5,"y":-545},{"s":"7K","x":234,"y":-555},{"s":"7K","x":234.5,"y":-560},{"s":"7K","x":235,"y":-565},{"s":"7K","x":235.5,"y":-560},{"s":"7K","x":236,"y":-555},{"s":"7K","x":236.5,"y":-545},{"s":"7K","x":237,"y":-530},{"s":"7K","x":237.5,"y":-515},{"s":"7K","x":238,"y":-495},{"s":"7K","x":238.5,"y":-475},{"s":"7K","x":239,"y":-450},{"s":"7K","x":239.5,"y":-425},{"s":"7K","x":240,"y":-400},{"s":"7K","x":240.5,"y":-375},{"s":"7K","x":241,"y":-350},{"s":"7K","x":241.5,"y":-325},{"s":"7K","x":242,"y":-305},{"s":"7K","x":242.5,"y":-280},{"s":"7K","x":243,"y":-255},{"s":"7K","x":243.5,"y":-235},{"s":"7K","x":244,"y":-215},{"s":"7K","x":244.5,"y":-195},{"s":"7K","x":245,"y":-175},{"s":"7K","x":245.5,"y":-155},{"s":"7K","x":246,"y":-135},{"s":"7K","x":246.5,"y":-120},{"s":"7K","x":247,"y":-110},{"s":"7K","x":247.5,"y":-100},{"s":"7K","x":248,"y":-90},{"s":"7K","x":248.5,"y":-80},{"s":"7K","x":249,"y":-75},{"s":"7K","x":249.5,"y":-70},{"s":"7K","x":250,"y":-65},{"s":"7K","x":250.5,"y":-60},{"s":"7K","x":251,"y":-55},{"s":"7K","x":251.5,"y":-55},{"s":"7K","x":252,"y":-50},{"s":"7K","x":252.5,"y":-50},{"s":"7K","x":253,"y":-45},{"s":"7K","x":253.5,"y":-45},{"s":"7K","x":254,"y":-45},{"s":"7K","x":254.5,"y":-40},{"s":"7K","x":255,"y":-40},{"s":"7K","x":255.5,"y":-40},{"s":"7K","x":256,"y":-35},{"s":"7K","x":256.5,"y":-35},{"s":"7K","x":257,"y":-30},{"s":"7K","x":257.5,"y":-30},{"s":"7K","x":258,"y":-30},{"s":"7K","x":258.5,"y":-30},{"s":"7K","x":259,"y":-30},{"s":"7K","x":259.5,"y":-35},{"s":"7K","x":260,"y":-35},
{"s":"5K","x":210,"y":-1500},{"s":"5K","x":210.5,"y":-1890},{"s":"5K","x":211,"y":-2420},{"s":"5K","x":211.5,"y":-2750},{"s":"5K","x":212,"y":-2800},{"s":"5K","x":212.5,"y":-2750},{"s":"5K","x":213,"y":-3030},{"s":"5K","x":213.5,"y":-2980},{"s":"5K","x":214,"y":-3030},{"s":"5K","x":214.5,"y":-2760},{"s":"5K","x":215,"y":-2900},{"s":"5K","x":215.5,"y":-2720},{"s":"5K","x":216,"y":-2560},{"s":"5K","x":216.5,"y":-2520},{"s":"5K","x":217,"y":-2420},{"s":"5K","x":217.5,"y":-2160},{"s":"5K","x":218,"y":-1860},{"s":"5K","x":218.5,"y":-1900},{"s":"5K","x":219,"y":-1800},{"s":"5K","x":219.5,"y":-1720},{"s":"5K","x":220,"y":-1660},{"s":"5K","x":220.5,"y":-1590},{"s":"5K","x":221,"y":-1520},{"s":"5K","x":221.5,"y":-1430},{"s":"5K","x":222,"y":-1380},{"s":"5K","x":222.5,"y":-1330},{"s":"5K","x":223,"y":-1260},{"s":"5K","x":223.5,"y":-1210},{"s":"5K","x":224,"y":-1180},{"s":"5K","x":224.5,"y":-1120},{"s":"5K","x":225,"y":-1080},{"s":"5K","x":225.5,"y":-1030},{"s":"5K","x":226,"y":-960},{"s":"5K","x":226.5,"y":-920},{"s":"5K","x":227,"y":-870},{"s":"5K","x":227.5,"y":-840},{"s":"5K","x":228,"y":-820},{"s":"5K","x":228.5,"y":-800},{"s":"5K","x":229,"y":-770},{"s":"5K","x":229.5,"y":-740},{"s":"5K","x":230,"y":-720},{"s":"5K","x":230.5,"y":-690},{"s":"5K","x":231,"y":-660},{"s":"5K","x":231.5,"y":-640},{"s":"5K","x":232,"y":-620},{"s":"5K","x":232.5,"y":-610},{"s":"5K","x":233,"y":-605},{"s":"5K","x":233.5,"y":-605},{"s":"5K","x":234,"y":-600},{"s":"5K","x":234.5,"y":-600},{"s":"5K","x":235,"y":-595},{"s":"5K","x":235.5,"y":-590},{"s":"5K","x":236,"y":-580},{"s":"5K","x":236.5,"y":-565},{"s":"5K","x":237,"y":-550},{"s":"5K","x":237.5,"y":-530},{"s":"5K","x":238,"y":-510},{"s":"5K","x":238.5,"y":-490},{"s":"5K","x":239,"y":-465},{"s":"5K","x":239.5,"y":-440},{"s":"5K","x":240,"y":-415},{"s":"5K","x":240.5,"y":-390},{"s":"5K","x":241,"y":-360},{"s":"5K","x":241.5,"y":-335},{"s":"5K","x":242,"y":-310},{"s":"5K","x":242.5,"y":-285},{"s":"5K","x":243,"y":-260},{"s":"5K","x":243.5,"y":-240},{"s":"5K","x":244,"y":-220},{"s":"5K","x":244.5,"y":-200},{"s":"5K","x":245,"y":-180},{"s":"5K","x":245.5,"y":-160},{"s":"5K","x":246,"y":-140},{"s":"5K","x":246.5,"y":-125},{"s":"5K","x":247,"y":-115},{"s":"5K","x":247.5,"y":-105},{"s":"5K","x":248,"y":-95},{"s":"5K","x":248.5,"y":-85},{"s":"5K","x":249,"y":-80},{"s":"5K","x":249.5,"y":-75},{"s":"5K","x":250,"y":-70},{"s":"5K","x":250.5,"y":-65},{"s":"5K","x":251,"y":-60},{"s":"5K","x":251.5,"y":-60},{"s":"5K","x":252,"y":-55},{"s":"5K","x":252.5,"y":-55},{"s":"5K","x":253,"y":-50},{"s":"5K","x":253.5,"y":-50},{"s":"5K","x":254,"y":-85},{"s":"5K","x":254.5,"y":-45},{"s":"5K","x":255,"y":-45},{"s":"5K","x":255.5,"y":-40},{"s":"5K","x":256,"y":-40},{"s":"5K","x":256.5,"y":-40},{"s":"5K","x":257,"y":-35},{"s":"5K","x":257.5,"y":-35},{"s":"5K","x":258,"y":-35},{"s":"5K","x":258.5,"y":-30},{"s":"5K","x":259,"y":-30},{"s":"5K","x":259.5,"y":-40},{"s":"5K","x":260,"y":-40},
{"s":"0K","x":210,"y":-2150},{"s":"0K","x":210.5,"y":-2815},{"s":"0K","x":211,"y":-2995},{"s":"0K","x":211.5,"y":-3010},{"s":"0K","x":212,"y":-3240},{"s":"0K","x":212.5,"y":-3262},{"s":"0K","x":213,"y":-2890},{"s":"0K","x":213.5,"y":-3240},{"s":"0K","x":214,"y":-3170},{"s":"0K","x":214.5,"y":-2850},{"s":"0K","x":215,"y":-3050},{"s":"0K","x":215.5,"y":-2810},{"s":"0K","x":216,"y":-2760},{"s":"0K","x":216.5,"y":-2550},{"s":"0K","x":217,"y":-2550},{"s":"0K","x":217.5,"y":-2470},{"s":"0K","x":218,"y":-2320},{"s":"0K","x":218.5,"y":-2200},{"s":"0K","x":219,"y":-2040},{"s":"0K","x":219.5,"y":-1940},{"s":"0K","x":220,"y":-1850},{"s":"0K","x":220.5,"y":-1800},{"s":"0K","x":221,"y":-1760},{"s":"0K","x":221.5,"y":-1700},{"s":"0K","x":222,"y":-1650},{"s":"0K","x":222.5,"y":-1580},{"s":"0K","x":223,"y":-1520},{"s":"0K","x":223.5,"y":-1400},{"s":"0K","x":224,"y":-1270},{"s":"0K","x":224.5,"y":-1200},{"s":"0K","x":225,"y":-1130},{"s":"0K","x":225.5,"y":-1090},{"s":"0K","x":226,"y":-1020},{"s":"0K","x":226.5,"y":-990},{"s":"0K","x":227,"y":-960},{"s":"0K","x":227.5,"y":-920},{"s":"0K","x":228,"y":-880},{"s":"0K","x":228.5,"y":-850},{"s":"0K","x":229,"y":-830},{"s":"0K","x":229.5,"y":-810},{"s":"0K","x":230,"y":-790},{"s":"0K","x":230.5,"y":-760},{"s":"0K","x":231,"y":-730},{"s":"0K","x":231.5,"y":-700},{"s":"0K","x":232,"y":-680},{"s":"0K","x":232.5,"y":-660},{"s":"0K","x":233,"y":-640},{"s":"0K","x":233.5,"y":-625},{"s":"0K","x":234,"y":-615},{"s":"0K","x":234.5,"y":-610},{"s":"0K","x":235,"y":-605},{"s":"0K","x":235.5,"y":-600},{"s":"0K","x":236,"y":-590},{"s":"0K","x":236.5,"y":-575},{"s":"0K","x":237,"y":-560},{"s":"0K","x":237.5,"y":-540},{"s":"0K","x":238,"y":-520},{"s":"0K","x":238.5,"y":-495},{"s":"0K","x":239,"y":-470},{"s":"0K","x":239.5,"y":-445},{"s":"0K","x":240,"y":-420},{"s":"0K","x":240.5,"y":-390},{"s":"0K","x":241,"y":-360},{"s":"0K","x":241.5,"y":-335},{"s":"0K","x":242,"y":-310},{"s":"0K","x":242.5,"y":-285},{"s":"0K","x":243,"y":-260},{"s":"0K","x":243.5,"y":-240},{"s":"0K","x":244,"y":-220},{"s":"0K","x":244.5,"y":-200},{"s":"0K","x":245,"y":-180},{"s":"0K","x":245.5,"y":-160},{"s":"0K","x":246,"y":-145},{"s":"0K","x":246.5,"y":-130},{"s":"0K","x":247,"y":-115},{"s":"0K","x":247.5,"y":-105},{"s":"0K","x":248,"y":-95},{"s":"0K","x":248.5,"y":-90},{"s":"0K","x":249,"y":-85},{"s":"0K","x":249.5,"y":-80},{"s":"0K","x":250,"y":-75},{"s":"0K","x":250.5,"y":-70},{"s":"0K","x":251,"y":-65},{"s":"0K","x":251.5,"y":-60},{"s":"0K","x":252,"y":-60},{"s":"0K","x":252.5,"y":-55},{"s":"0K","x":253,"y":-55},{"s":"0K","x":253.5,"y":-50},{"s":"0K","x":254,"y":-50},{"s":"0K","x":254.5,"y":-50},{"s":"0K","x":255,"y":-45},{"s":"0K","x":255.5,"y":-45},{"s":"0K","x":256,"y":-40},{"s":"0K","x":256.5,"y":-40},{"s":"0K","x":257,"y":-40},{"s":"0K","x":257.5,"y":-35},{"s":"0K","x":258,"y":-35},{"s":"0K","x":258.5,"y":-35},{"s":"0K","x":259,"y":-35},{"s":"0K","x":259.5,"y":-40},{"s":"0K","x":260,"y":-45}
]
},
"vconcat":[
{
"width":510,"height":411,
"layer":[
{"data":{"name":"a"},
"mark":{"type":"point","filled":false,"size":50,"strokeWidth":1,"color":"black","opacity":1},
"encoding":{
"x":{"field":"x","type":"quantitative","scale":{"domain":[210,265],"nice":false,"zero":false},"axis":{"orient":"bottom","values":[210,220,230,240,250,260],"tickSize":9,"labelPadding":3,"title":"Wavelength (nm)","titlePadding":12,"titleFontSize":20}},
"y":{"field":"y","type":"quantitative","scale":{"domain":[-2750,500],"nice":false,"zero":false},"axis":{"orient":"left","values":[-2500,-2000,-1500,-1000,-500,0,500],"tickSize":9,"labelPadding":3,"title":"[Θ] (deg cm² dmol⁻¹)","titlePadding":12,"titleY":220}},
"shape":{"field":"s","type":"nominal","scale":{"domain":["7K","5K","0K","3REA","5REA"],"range":["circle","square","triangle-up","M-1,-1L1,1M-1,1L1,-1","M-1,0L1,0M0,-1L0,1"]},
"legend":{"title":"pH 7, 8.5 M Urea","legendX":361,"legendY":265,"symbolSize":45,"symbolStrokeWidth":1,"symbolStrokeColor":"black","symbolFillColor":"transparent","symbolOffset":28,"labelOffset":9,"titlePadding":11}}
}},
{"data":{"values":[{"x":230,"y":0}]},"mark":{"type":"point","opacity":0},
"encoding":{
"x":{"field":"x","type":"quantitative","scale":{"domain":[210,265],"nice":false,"zero":false},"axis":{"orient":"bottom","values":[215,225,235,245,255],"tickSize":5,"labels":false,"title":null}},
"y":{"field":"y","type":"quantitative","scale":{"domain":[-2750,500],"nice":false,"zero":false},"axis":{"orient":"left","values":[-2250,-1750,-1250,-750,-250,250],"tickSize":5,"labels":false,"title":null}}}},
{"data":{"values":[{"x":230,"y":0}]},"mark":{"type":"point","opacity":0},
"encoding":{
"x":{"field":"x","type":"quantitative","scale":{"domain":[210,265],"nice":false,"zero":false},"axis":{"orient":"top","values":[210,220,230,240,250,260],"tickSize":8,"offset":-8,"labels":false,"title":null}},
"y":{"field":"y","type":"quantitative","scale":{"domain":[-2750,500],"nice":false,"zero":false},"axis":{"orient":"right","values":[-2500,-2000,-1500,-1000,-500,0,500],"tickSize":8,"offset":-8,"labels":false,"title":null}}}},
{"data":{"values":[{"x":230,"y":0}]},"mark":{"type":"point","opacity":0},
"encoding":{
"x":{"field":"x","type":"quantitative","scale":{"domain":[210,265],"nice":false,"zero":false},"axis":{"orient":"top","values":[215,225,235,245,255],"tickSize":5,"offset":-5,"labels":false,"title":null}},
"y":{"field":"y","type":"quantitative","scale":{"domain":[-2750,500],"nice":false,"zero":false},"axis":{"orient":"right","values":[-2250,-1750,-1250,-750,-250,250],"tickSize":5,"offset":-5,"labels":false,"title":null}}}},
{"data":{"values":[{"label":"A"}]},"mark":{"type":"text","font":"Liberation Serif","fontSize":26,"color":"black","align":"center","baseline":"middle"},
"encoding":{"text":{"field":"label"},"x":{"datum":215.1,"type":"quantitative","axis":null},"y":{"datum":232,"type":"quantitative","axis":null}}}
],
"resolve":{"axis":{"x":"independent","y":"independent"}}
},
{
"width":510,"height":412,
"layer":[
{"data":{"name":"b1"},
"mark":{"type":"point","filled":false,"size":40,"strokeWidth":1,"color":"black","opacity":1},
"encoding":{
"x":{"field":"x","type":"quantitative","scale":{"domain":[210,265],"nice":false,"zero":false},"axis":{"orient":"bottom","values":[210,220,230,240,250,260],"tickSize":9,"labelPadding":3,"title":"Wavelength (nm)","titlePadding":9,"titleFontSize":20}},
"y":{"field":"y","type":"quantitative","scale":{"domain":[-3750,500],"nice":false,"zero":false},"axis":{"orient":"left","values":[-3500,-3000,-2500,-2000,-1500,-1000,-500,0,500],"tickSize":9,"labelPadding":3,"title":"[Θ] (deg cm² dmol⁻¹)","titlePadding":12,"titleY":218}},
"shape":{"field":"s","type":"nominal","scale":{"domain":["7K","5K","0K","3REA","5REA"],"range":["circle","square","triangle-up","M-1,-1L1,1M-1,1L1,-1","M-1,0L1,0M0,-1L0,1"]},
"legend":{"title":"pH 3, 8.5M Urea","legendX":331,"legendY":136,"symbolSize":28,"symbolStrokeWidth":1,"symbolStrokeColor":"black","symbolFillColor":"transparent","symbolOffset":22,"labelOffset":13,"titlePadding":8}}
}},
{"data":{"name":"b2"},
"mark":{"type":"point","filled":true,"size":45,"color":"black","opacity":1},
"encoding":{
"x":{"field":"x","type":"quantitative","scale":{"domain":[210,265],"nice":false,"zero":false},"axis":null},
"y":{"field":"y","type":"quantitative","scale":{"domain":[-3750,500],"nice":false,"zero":false},"axis":null},
"shape":{"field":"s","type":"nominal","scale":{"domain":["7K","5K","0K"],"range":["circle","square","triangle-up"]},
"legend":{"title":"pH 3, 3.5M Urea","legendX":331,"legendY":267,"symbolSize":28,"symbolStrokeWidth":0,"symbolFillColor":"black","symbolOffset":24,"labelOffset":11,"titlePadding":12}}
}},
{"data":{"values":[{"x":230,"y":0}]},"mark":{"type":"point","opacity":0},
"encoding":{
"x":{"field":"x","type":"quantitative","scale":{"domain":[210,265],"nice":false,"zero":false},"axis":{"orient":"bottom","values":[215,225,235,245,255],"tickSize":5,"labels":false,"title":null}},
"y":{"field":"y","type":"quantitative","scale":{"domain":[-3750,500],"nice":false,"zero":false},"axis":{"orient":"left","values":[-3250,-2750,-2250,-1750,-1250,-750,-250,250],"tickSize":5,"labels":false,"title":null}}}},
{"data":{"values":[{"x":230,"y":0}]},"mark":{"type":"point","opacity":0},
"encoding":{
"x":{"field":"x","type":"quantitative","scale":{"domain":[210,265],"nice":false,"zero":false},"axis":{"orient":"top","values":[210,220,230,240,250,260],"tickSize":8,"offset":-8,"labels":false,"title":null}},
"y":{"field":"y","type":"quantitative","scale":{"domain":[-3750,500],"nice":false,"zero":false},"axis":{"orient":"right","values":[-3500,-3000,-2500,-2000,-1500,-1000,-500,0,500],"tickSize":8,"offset":-8,"labels":false,"title":null}}}},
{"data":{"values":[{"x":230,"y":0}]},"mark":{"type":"point","opacity":0},
"encoding":{
"x":{"field":"x","type":"quantitative","scale":{"domain":[210,265],"nice":false,"zero":false},"axis":{"orient":"top","values":[215,225,235,245,255],"tickSize":5,"offset":-5,"labels":false,"title":null}},
"y":{"field":"y","type":"quantitative","scale":{"domain":[-3750,500],"nice":false,"zero":false},"axis":{"orient":"right","values":[-3250,-2750,-2250,-1750,-1250,-750,-250,250],"tickSize":5,"offset":-5,"labels":false,"title":null}}}},
{"data":{"values":[{"label":"B"}]},"mark":{"type":"text","font":"Liberation Serif","fontSize":26,"color":"black","align":"center","baseline":"middle"},
"encoding":{"text":{"field":"label"},"x":{"datum":215.3,"type":"quantitative","axis":null},"y":{"datum":192,"type":"quantitative","axis":null}}}
],
"resolve":{"axis":{"x":"independent","y":"independent"},"scale":{"shape":"independent"}}
}
]
}
